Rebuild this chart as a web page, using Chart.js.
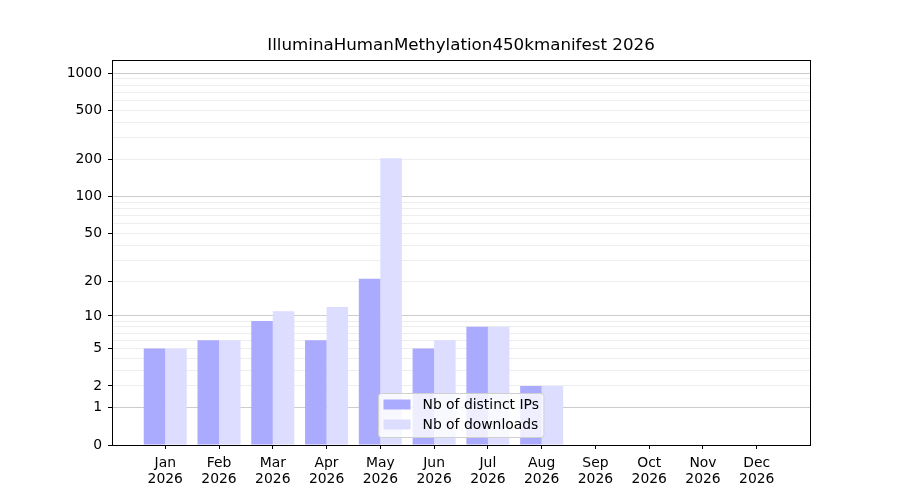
<!DOCTYPE html>
<html>
<head>
<meta charset="utf-8">
<script src="https://cdn.jsdelivr.net/npm/chart.js@4/dist/chart.umd.min.js"></script>
<style>
  html, body { margin: 0; padding: 0; background: #fff; }
  #wrap { width: 900px; height: 500px; }
</style>
</head>
<body>
<div id="wrap"><canvas id="c" width="900" height="500"></canvas></div>
<script>
// ---- data ----
const chartTitle = 'IlluminaHumanMethylation450kmanifest 2026';
const months = ['Jan','Feb','Mar','Apr','May','Jun','Jul','Aug','Sep','Oct','Nov','Dec'];
const yearLabel = '2026';
const distinctIPs = [5, 6, 9, 6, 21, 5, 8, 2, 0, 0, 0, 0];
const downloads  = [5, 6, 11, 12, 205, 6, 8, 2, 0, 0, 0, 0];
const seriesNames = ['Nb of distinct IPs', 'Nb of downloads'];
const yLabeledTicks = [0, 1, 2, 5, 10, 20, 50, 100, 200, 500, 1000];
const yMajorGrid = [1, 10, 100, 1000];
const yMinorGrid = [2,3,4,5,6,7,8,9, 20,30,40,50,60,70,80,90, 200,300,400,500,600,700,800,900];

// ---- custom log(1+x) scale ----
const f = v => Math.log10(1 + v);
const finv = t => Math.pow(10, t) - 1;
class Log1pScale extends Chart.Scale {
  determineDataLimits() {
    this.min = this.options.min ?? 0;
    this.max = this.options.max ?? 1000;
  }
  buildTicks() {
    const all = Array.from(new Set([0, ...yMajorGrid, ...yMinorGrid, ...yLabeledTicks])).sort((a,b)=>a-b);
    return all.map(v => ({ value: v }));
  }
  getLabelForValue(v) { return String(v); }
  configure() {
    super.configure();
    this._s = f(this.min);
    this._r = f(this.max) - this._s;
  }
  getPixelForValue(v) { return this.getPixelForDecimal((f(v) - this._s) / this._r); }
  getValueForPixel(p) { return finv(this._s + this.getDecimalForPixel(p) * this._r); }
}
Log1pScale.id = 'log1p';
Log1pScale.defaults = {};
Chart.register(Log1pScale);

const FONT = 'DejaVu Sans';
const colIPs = 'rgb(170,170,255)';
const colDl = 'rgb(221,221,255)';

const boxPlugin = {
  id: 'box',
  afterDraw(chart) {
    const { ctx, chartArea: a } = chart;
    ctx.save();
    ctx.strokeStyle = '#000';
    ctx.lineWidth = 1;
    ctx.strokeRect(Math.round(a.left) + 0.5, Math.round(a.top) + 0.5, Math.round(a.right - a.left), Math.round(a.bottom - a.top));
    // legend (lower center, inside plot)
    ctx.font = '13.9px "' + FONT + '"';
    const items = chart.data.datasets.map(d => ({ label: d.label, color: d.backgroundColor }));
    const tw = Math.max(...items.map(i => ctx.measureText(i.label).width));
    const pad = 5, sw = 27, gap = 12, rowH = 20;
    const w = pad + sw + gap + tw + pad;
    const h = 44;
    const cx = (a.left + a.right) / 2;
    const x0 = Math.round(cx - w / 2) + 0.5;
    const y0 = Math.round(a.bottom - 8 - h) + 0.5;
    ctx.beginPath();
    ctx.roundRect(x0, y0, w, h, 3);
    ctx.fillStyle = 'rgba(255,255,255,0.8)';
    ctx.fill();
    ctx.strokeStyle = '#d0d0d0';
    ctx.stroke();
    items.forEach((it, k) => {
      const yc = y0 + 11 + k * rowH;
      ctx.fillStyle = it.color;
      ctx.fillRect(x0 + pad, yc - 5, sw, 10);
      ctx.fillStyle = '#000';
      ctx.textBaseline = 'middle';
      ctx.textAlign = 'left';
      ctx.fillText(it.label, x0 + pad + sw + gap, yc + 1);
    });
    ctx.restore();
  }
};

new Chart(document.getElementById('c'), {
  type: 'bar',
  data: {
    datasets: [
      { label: seriesNames[0], data: distinctIPs.map((v, i) => ({ x: i, y: v })), backgroundColor: colIPs, borderWidth: 0 },
      { label: seriesNames[1], data: downloads.map((v, i) => ({ x: i, y: v })), backgroundColor: colDl, borderWidth: 0 }
    ]
  },
  options: {
    responsive: false,
    animation: false,
    devicePixelRatio: 1,
    categoryPercentage: 0.8,
    barPercentage: 1.0,
    layout: { padding: { left: 0, right: 90, top: 0, bottom: 0 } },
    plugins: {
      legend: { display: false },
      tooltip: { enabled: false },
      title: {
        display: true,
        fullSize: false,
        text: chartTitle,
        color: '#000',
        font: { family: FONT, size: 16.7, weight: 'normal', lineHeight: 1.2 },
        padding: { top: 36, bottom: 4 }
      }
    },
    scales: {
      x: {
        type: 'linear',
        min: -0.99,
        max: 11.99,
        bounds: 'data',
        offset: false,
        grid: { display: true, drawOnChartArea: false, drawTicks: true, tickLength: 4, tickColor: '#000', offset: false },
        border: { display: false },
        afterBuildTicks: s => { s.ticks = months.map((m, i) => ({ value: i })); },
        afterFit: s => { s.height = 55; },
        ticks: {
          autoSkip: false,
          maxRotation: 0,
          minRotation: 0,
          padding: 7,
          color: '#000',
          font: { family: FONT, size: 13.9, lineHeight: 1.1 },
          callback: v => [months[v], yearLabel]
        }
      },
      y: {
        type: 'log1p',
        min: 0,
        max: 1280,
        grid: {
          drawTicks: true,
          tickLength: 4,
          lineWidth: 1,
          color: c => {
            const v = c.tick && c.tick.value;
            if (yMajorGrid.includes(v)) return '#cccccc';
            if (yMinorGrid.includes(v)) return '#eeeeee';
            return 'rgba(0,0,0,0)';
          },
          tickColor: c => (c.tick && yLabeledTicks.includes(c.tick.value)) ? '#000' : 'rgba(0,0,0,0)'
        },
        border: { display: false },
        afterFit: s => { s.width = 112; },
        ticks: {
          autoSkip: false,
          padding: 6,
          color: '#000',
          font: { family: FONT, size: 13.9 },
          callback: v => yLabeledTicks.includes(v) ? String(v) : ''
        }
      }
    }
  },
  plugins: [boxPlugin]
});
</script>
</body>
</html>
